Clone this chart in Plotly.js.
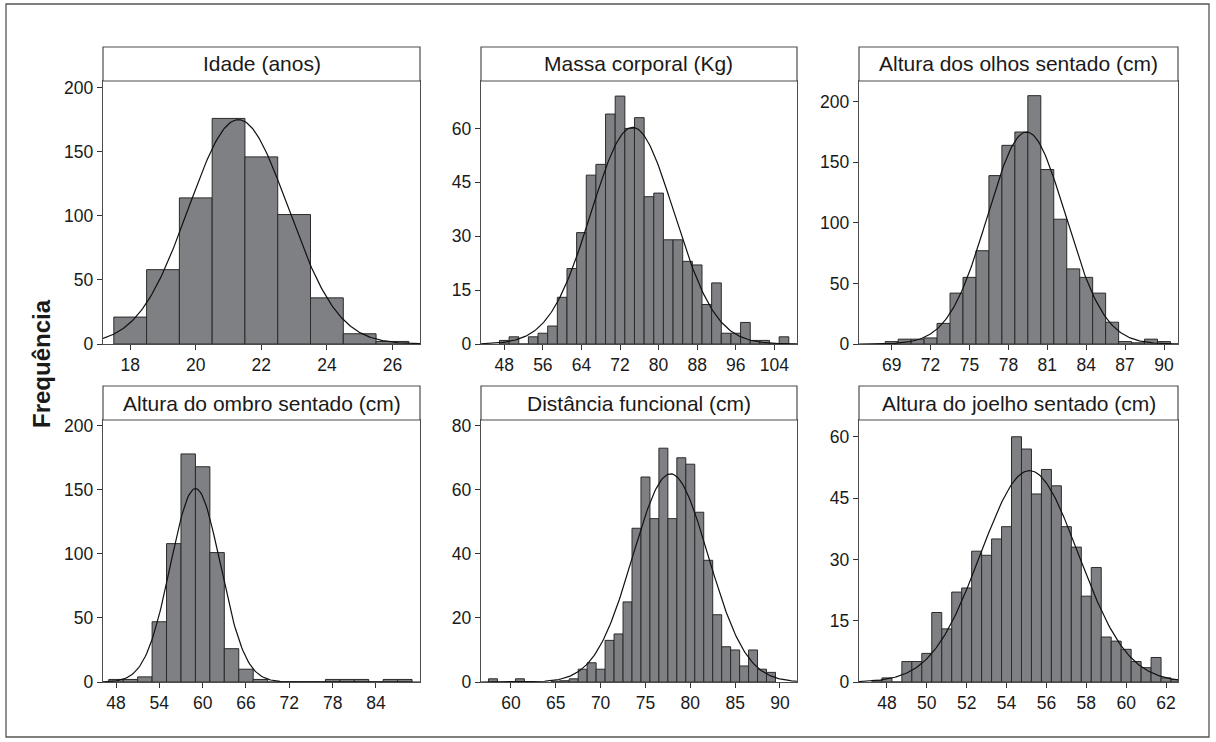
<!DOCTYPE html>
<html>
<head>
<meta charset="utf-8">
<script src="https://cdn.plot.ly/plotly-3.0.1.min.js"></script>
<style>html,body{margin:0;padding:0;background:#fff;}#chart{width:1216px;height:742px;}</style>
</head>
<body>
<div id="chart"></div>
<script>
// ---------------- DATA ----------------
const panelTitles = ["Idade (anos)", "Massa corporal (Kg)", "Altura dos olhos sentado (cm)",
                     "Altura do ombro sentado (cm)", "Distância funcional (cm)", "Altura do joelho sentado (cm)"];
const yAxisTitle = "Frequência";

// Idade (anos): bin centres, width 1
const idadeX    = [18, 19, 20, 21, 22, 23, 24, 25, 26];
const idadeFreq = [21, 58, 114, 176, 146, 101, 36, 8, 2];

// Massa corporal (Kg): bin centres, width 2
const massaX    = [48, 50, 52, 54, 56, 58, 60, 62, 64, 66, 68, 70, 72, 74, 76, 78, 80, 82, 84, 86, 88, 90, 92, 94, 96, 98, 100, 102, 104, 106];
const massaFreq = [1, 2, 0, 2, 3, 5, 13, 21, 31, 47, 50, 64, 69, 60, 63, 41, 42, 29, 29, 23, 22, 11, 17, 3, 3, 6, 1, 1, 0, 2];

// Altura dos olhos sentado (cm): width 1
const olhosX    = [69, 70, 71, 72, 73, 74, 75, 76, 77, 78, 79, 80, 81, 82, 83, 84, 85, 86, 87, 88, 89, 90];
const olhosFreq = [2, 4, 4, 5, 17, 42, 55, 77, 139, 164, 175, 205, 144, 103, 62, 55, 42, 18, 2, 1, 4, 2];

// Altura do ombro sentado (cm): width 2
const ombroX    = [48, 50, 52, 54, 56, 58, 60, 62, 64, 66, 68, 70, 72, 74, 76, 78, 80, 82, 84, 86, 88];
const ombroFreq = [2, 2, 4, 47, 108, 178, 168, 101, 26, 10, 2, 0, 0, 0, 0, 2, 2, 2, 0, 2, 2];

// Distância funcional (cm): width 1
const distX    = [58, 61, 65, 66, 67, 68, 69, 70, 71, 72, 73, 74, 75, 76, 77, 78, 79, 80, 81, 82, 83, 84, 85, 86, 87, 88, 89];
const distFreq = [1, 1, 0.3, 0.4, 1, 4, 6, 4, 13, 15, 25, 48, 64, 51, 73, 51, 70, 68, 53, 38, 21, 11, 10, 5, 10, 4, 3];

// Altura do joelho sentado (cm): width 0.5
const joelhoX    = [47.5, 48, 48.5, 49, 49.5, 50, 50.5, 51, 51.5, 52, 52.5, 53, 53.5, 54, 54.5, 55, 55.5, 56, 56.5, 57, 57.5, 58, 58.5, 59, 59.5, 60, 60.5, 61, 61.5, 62, 62.5];
const joelhoFreq = [0.4, 1, 0, 5, 5, 7, 17, 13, 22, 23, 32, 31, 35, 38, 60, 57, 46, 52, 48, 38, 33, 21, 28, 11, 10, 8, 5, 3.5, 6, 1, 0.6];

// Fitted normal curves (mean, sd, peak height)
const fitMean = [21.3, 74.6, 79.4, 59.0, 77.8, 55.15];
const fitSd   = [1.52, 8.6, 3.0, 3.45, 4.2, 2.45];
const fitPeak = [175, 60.3, 175, 151, 65, 51.7];

// Tick labels
const xTicks = [[18, 20, 22, 24, 26], [48, 56, 64, 72, 80, 88, 96, 104], [69, 72, 75, 78, 81, 84, 87, 90],
                [48, 54, 60, 66, 72, 78, 84], [60, 65, 70, 75, 80, 85, 90], [48, 50, 52, 54, 56, 58, 60, 62]];
const yTicks = [[0, 50, 100, 150, 200], [0, 15, 30, 45, 60], [0, 50, 100, 150, 200],
                [0, 50, 100, 150, 200], [0, 20, 40, 60, 80], [0, 15, 30, 45, 60]];

// ---------------- LAYOUT / STYLE ----------------
const W = 1216, H = 742;
const binWidths = [1, 2, 1, 2, 1, 0.5];
const xRanges = [[17.17, 26.84], [43.17, 108.7], [66.48, 91.08], [46.2, 90.1], [56.66, 91.9], [46.6, 62.6]];
const yRanges = [[0, 205.2], [0, 73.2], [0, 217.1], [0, 204.5], [0, 81.8], [0, 64.1]];
const colPx = [[103, 420], [481, 797], [859, 1178]];
const rowPx = [[81, 344], [420, 682]];      // plot area top/bottom (px)
const stripPx = [[47, 81], [386, 420]];     // strip top/bottom (px)

const xs = [idadeX, massaX, olhosX, ombroX, distX, joelhoX];
const ys = [idadeFreq, massaFreq, olhosFreq, ombroFreq, distFreq, joelhoFreq];

const FONT = "Liberation Sans, Arial, Helvetica, sans-serif";
const LINE = "#4d4d4d";
const TICKFONT = {family: FONT, size: 17.5, color: "#1a1a1a"};
const traces = [];
const layout = {
  width: W, height: H,
  margin: {l: 0, r: 0, t: 0, b: 0},
  paper_bgcolor: "#fff", plot_bgcolor: "#fff",
  showlegend: false,
  font: {family: FONT, size: 17, color: "#1a1a1a"},
  shapes: [], annotations: []
};

for (let i = 0; i < 6; i++) {
  const r = Math.floor(i / 3), c = i % 3;
  const ax = i === 0 ? "" : String(i + 1);
  const xa = "x" + ax, ya = "y" + ax;
  traces.push({
    type: "bar", x: xs[i], y: ys[i], width: binWidths[i],
    xaxis: xa, yaxis: ya,
    marker: {color: "#7f8084", line: {color: "#2a2a2a", width: 1}},
    hoverinfo: "skip"
  });
  // fitted normal curve across the axis range
  const cx = [], cy = [];
  const n = 240, a = xRanges[i][0], b = xRanges[i][1];
  for (let k = 0; k <= n; k++) {
    const xv = a + (b - a) * k / n;
    cx.push(xv);
    cy.push(fitPeak[i] * Math.exp(-Math.pow(xv - fitMean[i], 2) / (2 * fitSd[i] * fitSd[i])));
  }
  traces.push({
    type: "scatter", mode: "lines", x: cx, y: cy, xaxis: xa, yaxis: ya,
    line: {color: "#111", width: 1.2}, hoverinfo: "skip"
  });

  const xd = [colPx[c][0] / W, colPx[c][1] / W];
  const yd = [1 - rowPx[r][1] / H, 1 - rowPx[r][0] / H];
  layout["xaxis" + ax] = {
    domain: xd, range: xRanges[i], anchor: ya,
    tickvals: xTicks[i], ticks: "outside", ticklen: 5, tickwidth: 1, tickcolor: "#333",
    showline: true, mirror: true, linecolor: LINE, linewidth: 1.2,
    showgrid: false, zeroline: false, fixedrange: true,
    tickfont: TICKFONT
  };
  layout["yaxis" + ax] = {
    domain: yd, range: yRanges[i], anchor: xa,
    tickvals: yTicks[i], ticks: "outside", ticklen: 5, tickwidth: 1, tickcolor: "#333",
    showline: true, mirror: true, linecolor: LINE, linewidth: 1.2,
    showgrid: false, zeroline: false, fixedrange: true,
    tickfont: TICKFONT
  };
  // strip header
  layout.shapes.push({
    type: "rect", xref: "paper", yref: "paper",
    x0: xd[0], x1: xd[1], y0: 1 - stripPx[r][1] / H, y1: 1 - stripPx[r][0] / H,
    fillcolor: "#fff", line: {color: LINE, width: 1.2}
  });
  layout.annotations.push({
    xref: "paper", yref: "paper", x: (xd[0] + xd[1]) / 2,
    y: 1 - (stripPx[r][0] + stripPx[r][1]) / 2 / H,
    xanchor: "center", yanchor: "middle", showarrow: false,
    text: panelTitles[i], font: {family: FONT, size: 21, color: "#1a1a1a"}
  });
}

// outer frame
layout.shapes.push({
  type: "rect", xref: "paper", yref: "paper",
  x0: 6 / W, x1: 1209 / W, y0: 1 - 737 / H, y1: 1 - 4 / H,
  fillcolor: "rgba(0,0,0,0)", line: {color: "#555", width: 1.3}
});
// common y title
layout.annotations.push({
  xref: "paper", yref: "paper", x: 41 / W, y: 1 - 364 / H,
  xanchor: "center", yanchor: "middle", showarrow: false, textangle: -90,
  text: "<b>" + yAxisTitle + "</b>", font: {family: FONT, size: 24, color: "#1a1a1a"}
});

Plotly.newPlot("chart", traces, layout, {staticPlot: true, displayModeBar: false});
</script>
</body>
</html>
